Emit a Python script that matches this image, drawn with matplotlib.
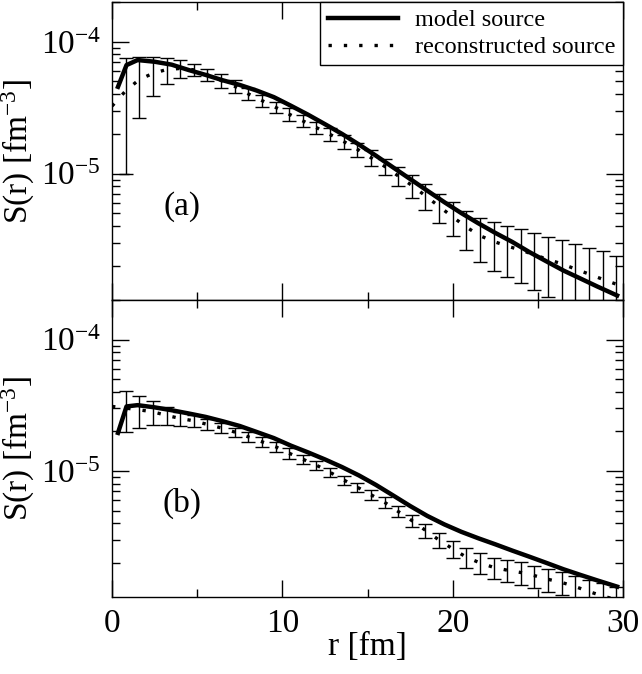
import numpy as np
import matplotlib
matplotlib.use("Agg")
import matplotlib.pyplot as plt
from matplotlib.ticker import MultipleLocator, LogLocator, NullFormatter

plt.rcParams["font.family"] = ["Liberation Serif", "DejaVu Serif"]
plt.rcParams["mathtext.fontset"] = "custom"
plt.rcParams["mathtext.rm"] = "Liberation Serif"
plt.rcParams["mathtext.it"] = "Liberation Serif:italic"

# reconstructed source: points every 0.8 fm, symmetric (linear) errors
r_rec = [0.0, 0.8, 1.6, 2.4, 3.2, 4.0, 4.8, 5.6, 6.4, 7.2, 8.0, 8.8, 9.6,
         10.4, 11.2, 12.0, 12.8, 13.6, 14.4, 15.2, 16.0, 16.8, 17.6, 18.4,
         19.2, 20.0, 20.8, 21.6, 22.4, 23.2, 24.0, 24.8, 25.6, 26.4, 27.2,
         28.0, 28.8, 29.6]

# panel (a)
rec_a = [3.25e-5, 4.24e-5, 5.17e-5, 5.75e-5, 6.15e-5, 6.27e-5, 6.12e-5, 5.6e-5,
         5.08e-5, 4.59e-5, 4.02e-5, 3.58e-5, 3.18e-5, 2.82e-5, 2.51e-5, 2.23e-5,
         1.98e-5, 1.75e-5, 1.53e-5, 1.32e-5, 1.135e-5, 9.6e-6, 8.14e-6, 6.78e-6,
         5.64e-6, 4.69e-6, 3.93e-6, 3.38e-6, 3.06e-6, 2.82e-6, 2.63e-6, 2.42e-6,
         2.23e-6, 2.07e-6, 1.89e-6, 1.73e-6, 1.58e-6, 1.45e-6]
err_a = [0.0, 3.24e-5, 2.52e-5, 1.85e-5, 1.33e-5, 1.0e-5, 6.5e-6, 6.0e-6,
         6.0e-6, 5.3e-6, 4.1e-6, 3.7e-6, 3.2e-6, 3.0e-6, 2.7e-6, 2.4e-6,
         2.2e-6, 2.1e-6, 1.9e-6, 1.8e-6, 1.65e-6, 1.6e-6, 1.56e-6, 1.5e-6,
         1.41e-6, 1.35e-6, 1.28e-6, 1.25e-6, 1.24e-6, 1.18e-6, 1.15e-6, 1.12e-6,
         1.07e-6, 1.05e-6, 1.02e-6, 0.99e-6, 0.99e-6, 0.91e-6]

# panel (b)
rec_b = [3.1e-5, 3.01e-5, 2.92e-5, 2.82e-5, 2.65e-5, 2.51e-5, 2.41e-5, 2.26e-5,
         2.13e-5, 1.98e-5, 1.82e-5, 1.67e-5, 1.53e-5, 1.365e-5, 1.23e-5, 1.107e-5,
         9.77e-6, 8.55e-6, 7.53e-6, 6.6e-6, 5.78e-6, 4.92e-6, 4.2e-6, 3.54e-6,
         2.98e-6, 2.56e-6, 2.21e-6, 2.0e-6, 1.85e-6, 1.76e-6, 1.69e-6, 1.6e-6,
         1.5e-6, 1.42e-6, 1.32e-6, 1.21e-6, 1.12e-6, 1.05e-6]
err_b = [0.0, 1.04e-5, 8.1e-6, 5.8e-6, 4.2e-6, 3.0e-6, 2.5e-6, 2.2e-6,
         2.0e-6, 1.6e-6, 1.5e-6, 1.4e-6, 1.25e-6, 1.2e-6, 0.91e-6, 0.82e-6,
         0.72e-6, 0.67e-6, 0.62e-6, 0.58e-6, 0.53e-6, 0.49e-6, 0.46e-6, 0.42e-6,
         0.39e-6, 0.38e-6, 0.38e-6, 0.36e-6, 0.34e-6, 0.33e-6, 0.33e-6, 0.31e-6,
         0.30e-6, 0.28e-6, 0.28e-6, 0.28e-6, 0.28e-6, 0.27e-6]

# model source
r_mod = [0.35, 0.85, 1.5, 2.5, 3.5, 4.5, 5.5, 6.5, 7.5, 8.5, 9.5, 10.5, 11.5,
         12.5, 13.5, 14.5, 15.5, 16.5, 17.5, 18.5, 19.5, 20.5, 21.5, 22.5,
         23.5, 24.5, 25.5, 26.5, 27.5, 28.5, 29.65]
mod_a = [4.55e-5, 6.65e-5, 7.26e-5, 7.05e-5, 6.7e-5, 6.1e-5, 5.6e-5, 5.1e-5,
         4.7e-5, 4.26e-5, 3.8e-5, 3.27e-5, 2.8e-5, 2.37e-5, 2.0e-5, 1.66e-5,
         1.365e-5, 1.114e-5, 9.1e-6, 7.43e-6, 6.08e-6, 5.02e-6, 4.2e-6, 3.55e-6,
         3.03e-6, 2.54e-6, 2.16e-6, 1.84e-6, 1.6e-6, 1.39e-6, 1.19e-6]
mod_b = [1.95e-5, 3.1e-5, 3.17e-5, 3.05e-5, 2.9e-5, 2.74e-5, 2.58e-5, 2.39e-5,
         2.2e-5, 1.98e-5, 1.78e-5, 1.56e-5, 1.387e-5, 1.225e-5, 1.072e-5, 9.25e-6,
         7.83e-6, 6.52e-6, 5.42e-6, 4.56e-6, 3.93e-6, 3.45e-6, 3.08e-6, 2.77e-6,
         2.48e-6, 2.23e-6, 2.0e-6, 1.79e-6, 1.62e-6, 1.47e-6, 1.32e-6]

fig = plt.figure(figsize=(6.42, 6.74), dpi=100)
ax_a = fig.add_axes([0.1745, 0.5549, 0.7960, 0.4421])
ax_b = fig.add_axes([0.1745, 0.1142, 0.7960, 0.4407], sharex=ax_a)

panels = [(ax_a, rec_a, err_a, mod_a, "(a)"), (ax_b, rec_b, err_b, mod_b, "(b)")]
for ax, rec, err, mod, tag in panels:
    ax.set_yscale("log")
    ax.errorbar(r_rec[1:], rec[1:], yerr=err[1:], fmt="none", ecolor="black",
                elinewidth=1.0, capsize=4.8, capthick=1.0, zorder=2)
    ax.plot(r_rec, rec, color="black", lw=2.4, linestyle=(0, (1, 3.6)),
            label="reconstructed source", zorder=3)
    ax.plot(r_mod, mod, color="black", lw=3.2, solid_joinstyle="round",
            label="model source", zorder=4)
    ax.text(0.137, 0.315, tag, transform=ax.transAxes, fontsize=24,
            ha="center", va="center")
    ax.set_xlim(0, 30)
    ax.set_ylim(1.1e-6, 2e-4)
    ax.xaxis.set_major_locator(MultipleLocator(10))
    ax.xaxis.set_minor_locator(MultipleLocator(5))
    ax.yaxis.set_minor_locator(LogLocator(base=10, subs=range(2, 10)))
    ax.yaxis.set_minor_formatter(NullFormatter())
    ax.tick_params(which="both", direction="in", top=True, right=True,
                   width=1.0, labelsize=24)
    ax.tick_params(which="major", length=12, pad=8)
    ax.tick_params(which="minor", length=6)
    for s in ax.spines.values():
        s.set_linewidth(1.0)
    ax.set_ylabel("S(r) [fm$^{-3}$]", fontsize=24)
    ax.yaxis.set_label_coords(-0.147, 0.5)

ax_a.tick_params(labelbottom=False)
ax_b.set_xlabel("r [fm]", fontsize=24)
ax_b.xaxis.set_label_coords(0.5, -0.115)

h, l = ax_a.get_legend_handles_labels()
leg = ax_a.legend(h[::-1], l[::-1], loc="upper right", bbox_to_anchor=(1, 1),
                  borderaxespad=0, fontsize=17.5, frameon=True, fancybox=False,
                  edgecolor="black", framealpha=1, handlelength=2.9,
                  handletextpad=0.7, borderpad=0.3, labelspacing=0.2)
leg.get_frame().set_linewidth(1.0)

fig.savefig("out.png", dpi=100)
